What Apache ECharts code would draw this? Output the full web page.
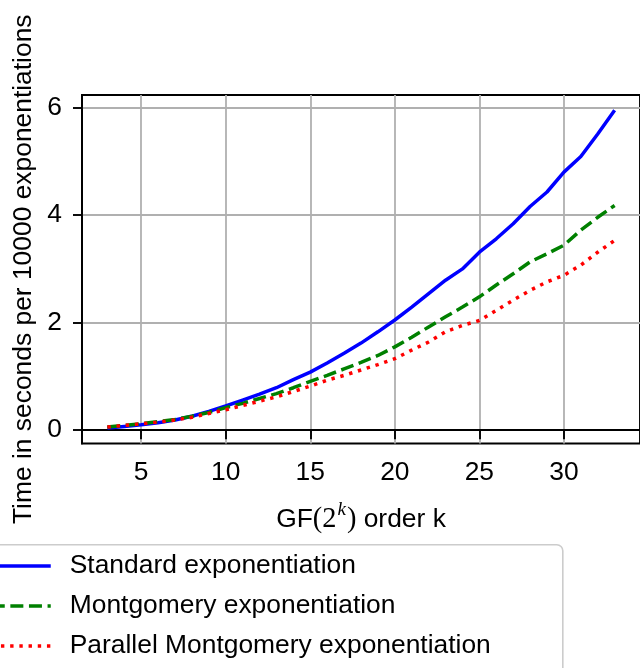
<!DOCTYPE html>
<html>
<head>
<meta charset="utf-8">
<title>GF(2^k) exponentiation timing</title>
<script src="https://cdn.jsdelivr.net/npm/echarts@6/dist/echarts.min.js"></script>
<style>
  html, body { margin: 0; padding: 0; background: #fff; }
  #chart { width: 640px; height: 668px; }
</style>
</head>
<body>
<div id="chart"></div>
<script>
// order k of the field GF(2^k)
var orders = [3, 4, 5, 6, 7, 8, 9, 10, 11, 12, 13, 14, 15, 16, 17, 18,
  19, 20, 21, 22, 23, 24, 25, 26, 27, 28, 29, 30, 31, 32, 33];
// seconds per 10000 exponentiations
var standardTimes = [0.04, 0.07, 0.10, 0.14, 0.19, 0.26, 0.35, 0.45, 0.56, 0.67,
  0.79, 0.94, 1.08, 1.25, 1.43, 1.62, 1.83, 2.05, 2.29, 2.54, 2.79, 3.00,
  3.31, 3.56, 3.84, 4.16, 4.43, 4.80, 5.09, 5.51, 5.95];
var montgomeryTimes = [0.06, 0.09, 0.12, 0.16, 0.20, 0.26, 0.33, 0.42, 0.50, 0.59,
  0.68, 0.79, 0.91, 1.02, 1.14, 1.26, 1.39, 1.55, 1.73, 1.92, 2.11, 2.29,
  2.48, 2.70, 2.91, 3.13, 3.28, 3.44, 3.72, 3.96, 4.18];
var parallelTimes = [0.06, 0.09, 0.12, 0.15, 0.19, 0.24, 0.31, 0.38, 0.46, 0.54,
  0.62, 0.72, 0.82, 0.93, 1.02, 1.12, 1.22, 1.33, 1.49, 1.64, 1.83, 1.95,
  2.04, 2.23, 2.42, 2.60, 2.76, 2.88, 3.07, 3.31, 3.53];
var seriesNames = ['Standard exponentiation', 'Montgomery exponentiation',
  'Parallel Montgomery exponentiation'];
var xTicks = [5, 10, 15, 20, 25, 30];
var yTicks = [0, 2, 4, 6];

var FONT = '"Liberation Sans", Arial, Helvetica, sans-serif';
var SERIF = '"Liberation Serif", "DejaVu Serif", serif';
var FS = 26.4;
var LW = 3.5;

function pairs(values) {
  return orders.map(function (k, i) { return [k, values[i]]; });
}

var myChart = echarts.init(document.getElementById('chart'), null, { renderer: 'canvas' });

var option = {
  animation: false,
  backgroundColor: '#fff',
  textStyle: { fontFamily: FONT },
  grid: {
    left: 82, top: 95, width: 562, height: 348.5,
    show: true, borderColor: '#000', borderWidth: 1.9, backgroundColor: 'transparent'
  },
  xAxis: {
    type: 'value',
    min: 1.5,
    max: 34.5,
    name: '{s|GF}{m|(2}{sup|k}{m|)}{s| order k}',
    nameLocation: 'middle',
    nameGap: 57,
    nameTextStyle: {
      rich: {
        s: { fontFamily: FONT, fontSize: FS, color: '#000' },
        m: { fontFamily: SERIF, fontSize: FS + 2, color: '#000' },
        sup: { fontFamily: SERIF, fontStyle: 'italic', fontSize: 19, color: '#000', padding: [0, 1, 20, 1] }
      }
    },
    axisLine: { show: true, lineStyle: { color: '#000', width: 1.9 } },
    axisTick: { show: true, customValues: xTicks, length: 9, lineStyle: { color: '#000', width: 1.9 } },
    axisLabel: { customValues: xTicks, color: '#000', fontSize: FS, fontFamily: FONT, margin: 16 },
    splitLine: { show: true, lineStyle: { color: '#b0b0b0', width: 1.8 } }
  },
  yAxis: {
    type: 'value',
    min: -0.247,
    max: 6.234,
    name: 'Time in seconds per 10000 exponentiations',
    nameLocation: 'middle',
    nameRotate: 90,
    nameGap: 40,
    nameTextStyle: { color: '#000', fontSize: FS, fontFamily: FONT },
    axisLine: { show: true, lineStyle: { color: '#000', width: 1.9 } },
    axisTick: { show: true, customValues: yTicks, length: 9, lineStyle: { color: '#000', width: 1.9 } },
    axisLabel: { customValues: yTicks, color: '#000', fontSize: FS, fontFamily: FONT, margin: 20 },
    splitLine: { show: true, lineStyle: { color: '#b0b0b0', width: 1.8 } }
  },
  legend: {
    orient: 'vertical',
    left: -10,
    top: 551,
    padding: 0,
    itemWidth: 59,
    itemHeight: 14,
    itemGap: 10,
    itemStyle: { opacity: 0 },
    lineStyle: { width: LW },
    data: seriesNames,
    textStyle: { color: '#000', fontSize: FS, fontFamily: FONT, lineHeight: 30, padding: [0, 0, 0, 14] }
  },
  graphic: [{
    type: 'rect',
    left: -12,
    top: 544,
    shape: { width: 574, height: 150, r: 6 },
    style: { fill: 'transparent', stroke: '#cccccc', lineWidth: 1.6 },
    z: 100
  }],
  series: [
    {
      name: seriesNames[0], type: 'line', data: pairs(standardTimes),
      showSymbol: false, symbol: 'none', z: 3,
      lineStyle: { color: '#0000ff', width: LW, cap: 'butt' },
      itemStyle: { color: '#0000ff' }
    },
    {
      name: seriesNames[1], type: 'line', data: pairs(montgomeryTimes),
      showSymbol: false, symbol: 'none', z: 4,
      lineStyle: { color: '#008000', width: LW, type: [13, 5.6], cap: 'butt' },
      itemStyle: { color: '#008000' }
    },
    {
      name: seriesNames[2], type: 'line', data: pairs(parallelTimes),
      showSymbol: false, symbol: 'none', z: 5,
      lineStyle: { color: '#ff0000', width: LW, type: [3.4, 5.8], cap: 'butt' },
      itemStyle: { color: '#ff0000' }
    }
  ]
};

myChart.setOption(option);
</script>
</body>
</html>
